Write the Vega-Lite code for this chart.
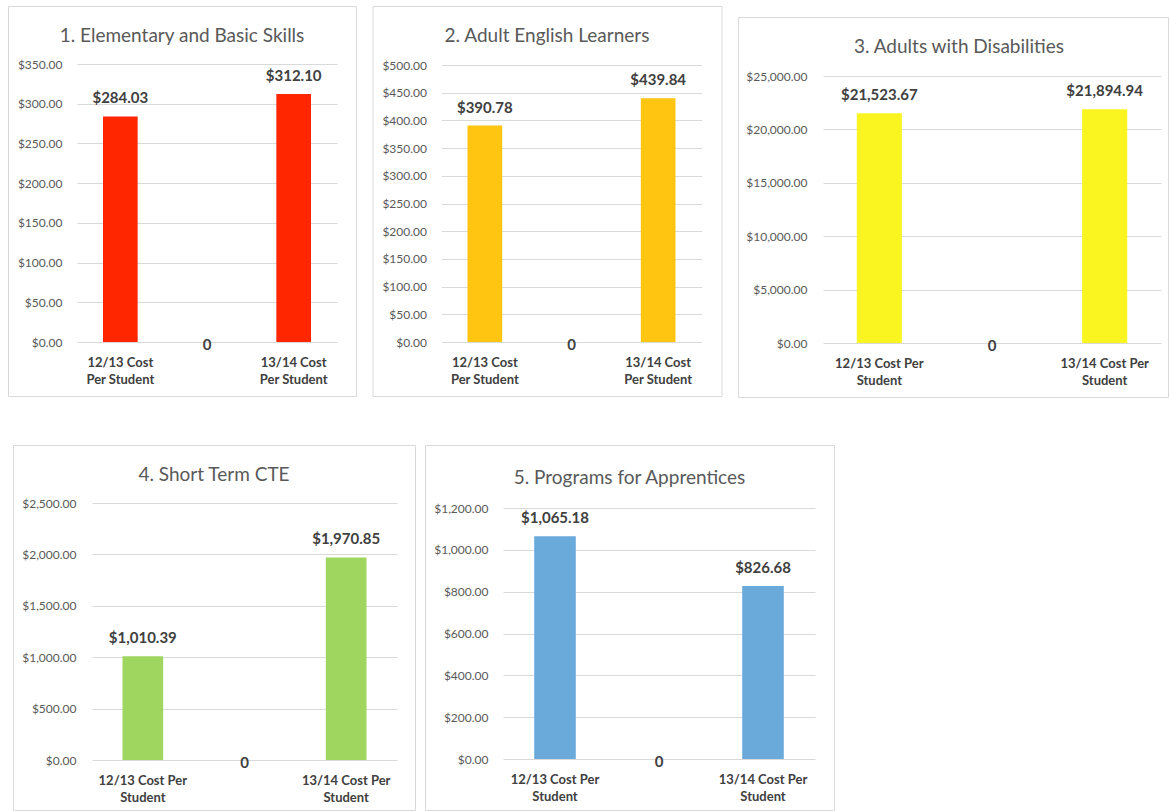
{
  "$schema": "https://vega.github.io/schema/vega-lite/v6.json",
  "padding": {"left": 7, "top": 5, "right": 0, "bottom": 0},
  "background": "white",
  "datasets": {
    "p1": [{"cat": "12/13 Cost Per Student", "value": 284.03}, {"cat": "(none)", "value": 0}, {"cat": "13/14 Cost Per Student", "value": 312.10}],
    "p2": [{"cat": "12/13 Cost Per Student", "value": 390.78}, {"cat": "(none)", "value": 0}, {"cat": "13/14 Cost Per Student", "value": 439.84}],
    "p3": [{"cat": "12/13 Cost Per Student", "value": 21523.67}, {"cat": "(none)", "value": 0}, {"cat": "13/14 Cost Per Student", "value": 21894.94}],
    "p4": [{"cat": "12/13 Cost Per Student", "value": 1010.39}, {"cat": "(none)", "value": 0}, {"cat": "13/14 Cost Per Student", "value": 1970.85}],
    "p5": [{"cat": "12/13 Cost Per Student", "value": 1065.18}, {"cat": "(none)", "value": 0}, {"cat": "13/14 Cost Per Student", "value": 826.68}],
    "empty": []
  },
  "config": {
    "font": "Lato",
    "view": {"stroke": "#D9D9D9", "strokeWidth": 1},
    "axis": {"ticks": false, "tickSize": 0, "domain": false, "grid": false, "title": null},
    "title": {"fontSize": 19, "fontWeight": "normal", "color": "#595959", "font": "Lato", "anchor": "middle", "frame": "group", "baseline": "alphabetic"}
  },
  "spacing": 46,
  "vconcat": [
    {
      "spacing": 14.5,
      "hconcat": [
        {
          "width": 348, "height": 390,
          "data": {"name": "p1"},
          "title": {"text": "1. Elementary and Basic Skills", "offset": -39.5},
          "encoding": {
            "x": {"field": "cat", "type": "nominal", "sort": null,
              "scale": {"range": [69, 329], "paddingInner": 0.6, "paddingOuter": 0.3},
              "axis": {"orient": "bottom", "offset": -54, "labelAngle": 0, "labelPadding": 14, "labelFontSize": 13, "labelFontWeight": "bold", "labelColor": "#404040", "labelLineHeight": 17, "labelLimit": 300, "labelOverlap": false,
                "labelExpr": "datum.value == '12/13 Cost Per Student' ? ['12/13 Cost', 'Per Student'] : datum.value == '13/14 Cost Per Student' ? ['13/14 Cost', 'Per Student'] : ''"}},
            "y": {"field": "value", "type": "quantitative",
              "scale": {"domain": [0, 350], "range": [336, 58], "nice": false},
              "axis": {"offset": -69, "values": [0, 50, 100, 150, 200, 250, 300, 350], "format": "$,.2f", "labelPadding": 15, "labelFontSize": 12, "labelColor": "#595959", "grid": true, "gridColor": "#D9D9D9", "gridWidth": 1}}
          },
          "layer": [
            {"mark": {"type": "bar", "color": "#FF2600"}},
            {"transform": [{"filter": "datum.value > 0"}], "mark": {"type": "text", "baseline": "alphabetic", "dy": -13, "fontSize": 15, "fontWeight": "bold", "color": "#404040"}, "encoding": {"text": {"field": "value", "type": "quantitative", "format": "$,.2f"}}},
            {"transform": [{"filter": "datum.value == 0"}], "mark": {"type": "text", "baseline": "middle", "dy": 3, "fontSize": 15, "fontWeight": "bold", "color": "#404040"}, "encoding": {"text": {"field": "value", "type": "quantitative", "format": "d"}}}
          ]
        },
        {
          "width": 349, "height": 390,
          "data": {"name": "p2"},
          "title": {"text": "2. Adult English Learners", "offset": -39.5},
          "encoding": {
            "x": {"field": "cat", "type": "nominal", "sort": null,
              "scale": {"range": [69, 329], "paddingInner": 0.6, "paddingOuter": 0.3},
              "axis": {"orient": "bottom", "offset": -54, "labelAngle": 0, "labelPadding": 14, "labelFontSize": 13, "labelFontWeight": "bold", "labelColor": "#404040", "labelLineHeight": 17, "labelLimit": 300, "labelOverlap": false,
                "labelExpr": "datum.value == '12/13 Cost Per Student' ? ['12/13 Cost', 'Per Student'] : datum.value == '13/14 Cost Per Student' ? ['13/14 Cost', 'Per Student'] : ''"}},
            "y": {"field": "value", "type": "quantitative",
              "scale": {"domain": [0, 500], "range": [336, 59], "nice": false},
              "axis": {"offset": -69, "values": [0, 50, 100, 150, 200, 250, 300, 350, 400, 450, 500], "format": "$,.2f", "labelPadding": 15, "labelFontSize": 12, "labelColor": "#595959", "grid": true, "gridColor": "#D9D9D9", "gridWidth": 1}}
          },
          "layer": [
            {"mark": {"type": "bar", "color": "#FFC511"}},
            {"transform": [{"filter": "datum.value > 0"}], "mark": {"type": "text", "baseline": "alphabetic", "dy": -13, "fontSize": 15, "fontWeight": "bold", "color": "#404040"}, "encoding": {"text": {"field": "value", "type": "quantitative", "format": "$,.2f"}}},
            {"transform": [{"filter": "datum.value == 0"}], "mark": {"type": "text", "baseline": "middle", "dy": 3, "fontSize": 15, "fontWeight": "bold", "color": "#404040"}, "encoding": {"text": {"field": "value", "type": "quantitative", "format": "d"}}}
          ]
        },
        {
          "spacing": 0,
          "vconcat": [
            {"width": 1, "height": 10, "data": {"name": "empty"}, "mark": "text", "encoding": {}, "view": {"stroke": null}},
            {
              "width": 430, "height": 380,
              "data": {"name": "p3"},
              "title": {"text": "3. Adults with Disabilities", "offset": -39.5, "dx": 6},
              "encoding": {
                "x": {"field": "cat", "type": "nominal", "sort": null,
                  "scale": {"range": [85, 423], "paddingInner": 0.6, "paddingOuter": 0.3},
                  "axis": {"orient": "bottom", "offset": -54, "labelAngle": 0, "labelPadding": 14, "labelFontSize": 13, "labelFontWeight": "bold", "labelColor": "#404040", "labelLineHeight": 17, "labelLimit": 300, "labelOverlap": false,
                    "labelExpr": "datum.value == '12/13 Cost Per Student' ? ['12/13 Cost Per', 'Student'] : datum.value == '13/14 Cost Per Student' ? ['13/14 Cost Per', 'Student'] : ''"}},
                "y": {"field": "value", "type": "quantitative",
                  "scale": {"domain": [0, 25000], "range": [326, 59], "nice": false},
                  "axis": {"offset": -85, "values": [0, 5000, 10000, 15000, 20000, 25000], "format": "$,.2f", "labelPadding": 16, "labelFontSize": 12, "labelColor": "#595959", "grid": true, "gridColor": "#D9D9D9", "gridWidth": 1}}
              },
              "layer": [
                {"mark": {"type": "bar", "color": "#FAF520"}},
                {"transform": [{"filter": "datum.value > 0"}], "mark": {"type": "text", "baseline": "alphabetic", "dy": -13, "fontSize": 15, "fontWeight": "bold", "color": "#404040"}, "encoding": {"text": {"field": "value", "type": "quantitative", "format": "$,.2f"}}},
                {"transform": [{"filter": "datum.value == 0"}], "mark": {"type": "text", "baseline": "middle", "dy": 3, "fontSize": 15, "fontWeight": "bold", "color": "#404040"}, "encoding": {"text": {"field": "value", "type": "quantitative", "format": "d"}}}
              ]
            }
          ]
        }
      ]
    },
    {
      "spacing": 0,
      "hconcat": [
        {"width": 4, "height": 1, "data": {"name": "empty"}, "mark": "text", "encoding": {}, "view": {"stroke": null}},
        {
          "spacing": 8,
          "hconcat": [
            {
              "width": 402, "height": 365,
              "data": {"name": "p4"},
              "title": {"text": "4. Short Term CTE", "offset": -39.5},
              "encoding": {
                "x": {"field": "cat", "type": "nominal", "sort": null,
                  "scale": {"range": [79, 384], "paddingInner": 0.6, "paddingOuter": 0.3},
                  "axis": {"orient": "bottom", "offset": -50, "labelAngle": 0, "labelPadding": 14, "labelFontSize": 13, "labelFontWeight": "bold", "labelColor": "#404040", "labelLineHeight": 17, "labelLimit": 300, "labelOverlap": false,
                    "labelExpr": "datum.value == '12/13 Cost Per Student' ? ['12/13 Cost Per', 'Student'] : datum.value == '13/14 Cost Per Student' ? ['13/14 Cost Per', 'Student'] : ''"}},
                "y": {"field": "value", "type": "quantitative",
                  "scale": {"domain": [0, 2500], "range": [315, 58], "nice": false},
                  "axis": {"offset": -79, "values": [0, 500, 1000, 1500, 2000, 2500], "format": "$,.2f", "labelPadding": 16, "labelFontSize": 12, "labelColor": "#595959", "grid": true, "gridColor": "#D9D9D9", "gridWidth": 1}}
              },
              "layer": [
                {"mark": {"type": "bar", "color": "#9ED660"}},
                {"transform": [{"filter": "datum.value > 0"}], "mark": {"type": "text", "baseline": "alphabetic", "dy": -13, "fontSize": 15, "fontWeight": "bold", "color": "#404040"}, "encoding": {"text": {"field": "value", "type": "quantitative", "format": "$,.2f"}}},
                {"transform": [{"filter": "datum.value == 0"}], "mark": {"type": "text", "baseline": "middle", "dy": 3, "fontSize": 15, "fontWeight": "bold", "color": "#404040"}, "encoding": {"text": {"field": "value", "type": "quantitative", "format": "d"}}}
              ]
            },
            {
              "width": 409, "height": 365,
              "data": {"name": "p5"},
              "title": {"text": "5. Programs for Apprentices", "offset": -43},
              "encoding": {
                "x": {"field": "cat", "type": "nominal", "sort": null,
                  "scale": {"range": [78, 390], "paddingInner": 0.6, "paddingOuter": 0.3},
                  "axis": {"orient": "bottom", "offset": -51, "labelAngle": 0, "labelPadding": 14, "labelFontSize": 13, "labelFontWeight": "bold", "labelColor": "#404040", "labelLineHeight": 17, "labelLimit": 300, "labelOverlap": false,
                    "labelExpr": "datum.value == '12/13 Cost Per Student' ? ['12/13 Cost Per', 'Student'] : datum.value == '13/14 Cost Per Student' ? ['13/14 Cost Per', 'Student'] : ''"}},
                "y": {"field": "value", "type": "quantitative",
                  "scale": {"domain": [0, 1200], "range": [314, 63], "nice": false},
                  "axis": {"offset": -78, "values": [0, 200, 400, 600, 800, 1000, 1200], "format": "$,.2f", "labelPadding": 15, "labelFontSize": 12, "labelColor": "#595959", "grid": true, "gridColor": "#D9D9D9", "gridWidth": 1}}
              },
              "layer": [
                {"mark": {"type": "bar", "color": "#6AAADA"}},
                {"transform": [{"filter": "datum.value > 0"}], "mark": {"type": "text", "baseline": "alphabetic", "dy": -13, "fontSize": 15, "fontWeight": "bold", "color": "#404040"}, "encoding": {"text": {"field": "value", "type": "quantitative", "format": "$,.2f"}}},
                {"transform": [{"filter": "datum.value == 0"}], "mark": {"type": "text", "baseline": "middle", "dy": 3, "fontSize": 15, "fontWeight": "bold", "color": "#404040"}, "encoding": {"text": {"field": "value", "type": "quantitative", "format": "d"}}}
              ]
            }
          ]
        }
      ]
    }
  ]
}
